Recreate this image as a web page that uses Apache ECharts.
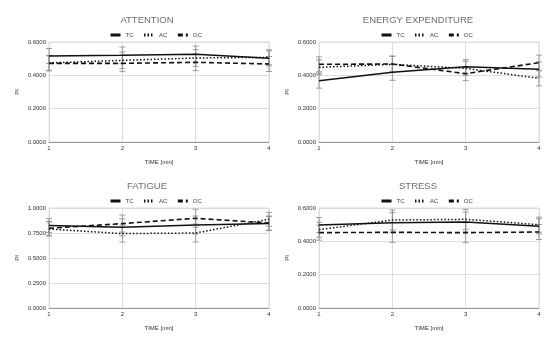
<!DOCTYPE html>
<html><head><meta charset="utf-8">
<script src="https://cdn.jsdelivr.net/npm/echarts@6/dist/echarts.min.js"></script>
<style>html,body{margin:0;padding:0;background:#fff}#c{width:550px;height:347px}</style>
</head><body><div id="c"></div>
<script>
const times = [1, 2, 3, 4];
const seriesNames = ['TC', 'AC', 'OC'];
const panelTitles = ['ATTENTION', 'ENERGY EXPENDITURE', 'FATIGUE', 'STRESS'];
const yMax = [0.6, 0.6, 1.0, 0.6];
const yStep = [0.2, 0.2, 0.25, 0.2];

const attentionTC = [0.516, 0.520, 0.526, 0.502];
const attentionAC = [0.474, 0.490, 0.504, 0.508];
const attentionOC = [0.472, 0.472, 0.478, 0.468];
const attentionErr = [0.045, 0.050, 0.050, 0.045];

const energyTC = [0.368, 0.418, 0.452, 0.436];
const energyAC = [0.448, 0.466, 0.442, 0.382];
const energyOC = [0.466, 0.468, 0.410, 0.476];
const energyErr = [0.045, 0.048, 0.042, 0.045];

const fatigueTC = [0.824, 0.807, 0.830, 0.844];
const fatigueAC = [0.790, 0.744, 0.750, 0.887];
const fatigueOC = [0.797, 0.844, 0.897, 0.850];
const fatigueErr = [0.070, 0.085, 0.090, 0.070];

const stressTC = [0.498, 0.512, 0.516, 0.490];
const stressAC = [0.470, 0.528, 0.532, 0.500];
const stressOC = [0.452, 0.454, 0.452, 0.456];
const stressErr = [0.045, 0.060, 0.060, 0.045];

const panels = [
  [attentionTC, attentionAC, attentionOC, attentionErr],
  [energyTC, energyAC, energyOC, energyErr],
  [fatigueTC, fatigueAC, fatigueOC, fatigueErr],
  [stressTC, stressAC, stressOC, stressErr]
];

const gridPos = [
  {left: 49, top: 42, cx: 142}, {left: 319, top: 42, cx: 413},
  {left: 49, top: 208, cx: 142}, {left: 319, top: 208, cx: 413}
];
const W = 220, H = 100;
const lineTypes = ['solid', [1.5, 2], [5, 3]];
const lineWidths = [1.5, 1.5, 1.6];
const FONT = 'Liberation Sans, Arial';

const option = {
  animation: false,
  backgroundColor: '#fff',
  title: [], legend: [], grid: [], xAxis: [], yAxis: [], series: []
};

panels.forEach((p, i) => {
  const g = gridPos[i];
  option.title.push({
    text: panelTitles[i], left: g.cx, top: g.top - 32, textAlign: 'center',
    textStyle: {fontFamily: FONT, fontSize: 9.5, fontWeight: 'normal', color: '#6e6e6e'}
  });
  option.grid.push({left: g.left, top: g.top, width: W, height: H, show: true, borderColor: '#ddd', borderWidth: 1});
  option.xAxis.push({
    type: 'value', gridIndex: i, min: 1, max: 4, interval: 1,
    name: 'TIME [min]', nameLocation: 'middle', nameGap: 17,
    nameTextStyle: {fontSize: 6, color: '#333', fontFamily: FONT},
    axisLine: {lineStyle: {color: '#999'}}, axisTick: {show: false},
    axisLabel: {fontSize: 6, color: '#333', margin: 3, fontFamily: FONT},
    splitLine: {show: true, lineStyle: {color: '#ddd'}}
  });
  option.yAxis.push({
    type: 'value', gridIndex: i, min: 0, max: yMax[i], interval: yStep[i],
    name: 'PI', nameLocation: 'middle', nameGap: 29,
    nameTextStyle: {fontSize: 6, color: '#333', fontFamily: FONT},
    axisLine: {show: false}, axisTick: {show: false},
    axisLabel: {fontSize: 6, color: '#333', margin: 3, fontFamily: FONT,
      formatter: v => v.toFixed(4)},
    splitLine: {show: true, lineStyle: {color: '#ddd'}}
  });
  const ids = [];
  seriesNames.forEach((nm, k) => {
    const id = nm + '_' + i;
    ids.push({name: id});
    option.series.push({
      type: 'custom', xAxisIndex: i, yAxisIndex: i, silent: true, z: 1,
      data: times.map((t, j) => [t, p[k][j] - p[3][j], p[k][j] + p[3][j]]),
      encode: {x: 0, y: [1, 2]},
      renderItem: (params, api) => {
        const lo = api.coord([api.value(0), api.value(1)]);
        const hi = api.coord([api.value(0), api.value(2)]);
        const cw = 3;
        const st = {stroke: '#888', lineWidth: 0.8, fill: null};
        return {type: 'group', children: [
          {type: 'line', shape: {x1: lo[0], y1: lo[1], x2: hi[0], y2: hi[1]}, style: st},
          {type: 'line', shape: {x1: lo[0]-cw, y1: lo[1], x2: lo[0]+cw, y2: lo[1]}, style: st},
          {type: 'line', shape: {x1: hi[0]-cw, y1: hi[1], x2: hi[0]+cw, y2: hi[1]}, style: st}
        ]};
      }
    });
    option.series.push({
      name: id, type: 'line', xAxisIndex: i, yAxisIndex: i, z: 3,
      data: times.map((t, j) => [t, p[k][j]]),
      symbol: 'none', color: '#111',
      lineStyle: {color: '#111', width: lineWidths[k], type: lineTypes[k]}
    });
  });
  option.legend.push({
    data: ids, left: g.cx - 38, top: g.top - 15, itemWidth: 10, itemHeight: 6, itemGap: 9,
    formatter: n => n.split('_')[0],
    itemStyle: {color: 'transparent', borderWidth: 0, opacity: 0},
    lineStyle: {width: 3},
    textStyle: {fontSize: 6, color: '#444', fontFamily: FONT}
  });
});

const chart = echarts.init(document.getElementById('c'), null, {renderer: 'canvas'});
chart.setOption(option);
</script></body></html>
